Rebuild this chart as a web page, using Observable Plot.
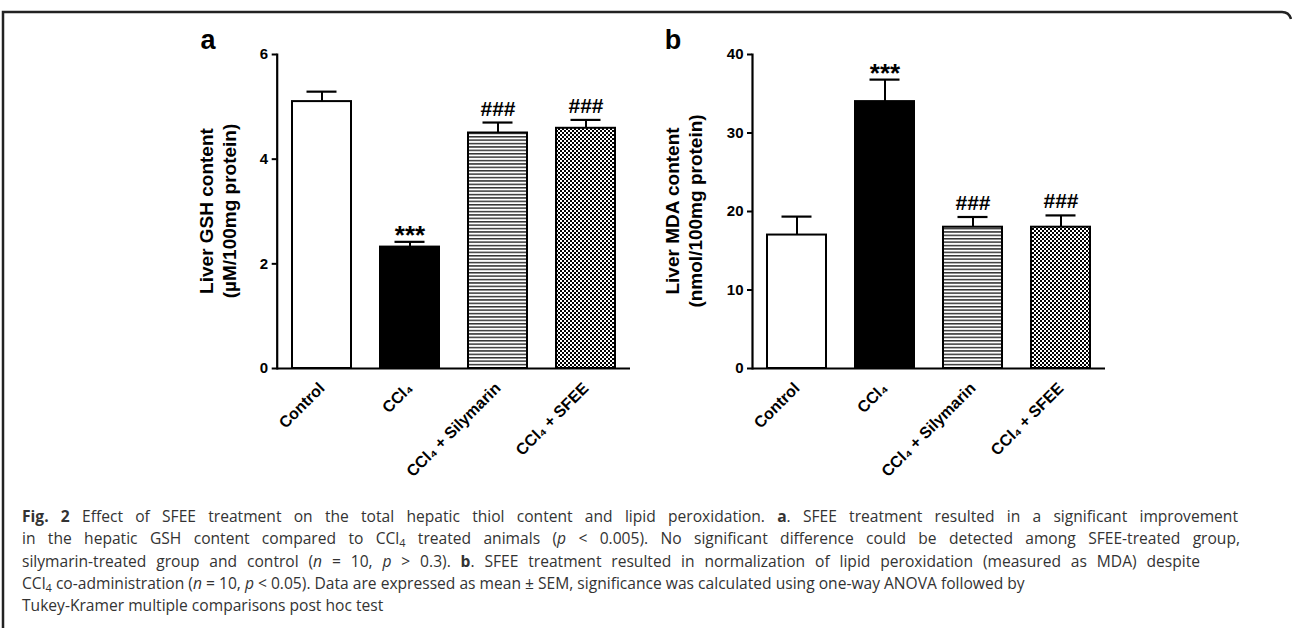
<!DOCTYPE html>
<html><head><meta charset="utf-8">
<script src="https://cdn.jsdelivr.net/npm/d3@7"></script>
<script src="https://cdn.jsdelivr.net/npm/@observablehq/plot@0.6"></script>
<style>
body{margin:0;background:#fff;width:1292px;height:628px;position:relative;overflow:hidden;}
.panel{position:absolute;top:0}
#a{left:150px} #b{left:620px}
#cap{position:absolute;left:22px;top:505px;font-family:"Open Sans",sans-serif;font-size:15.6px;line-height:22.3px;color:#333;white-space:nowrap}
#cap .j{text-align:justify;text-align-last:justify;white-space:normal}
#cap sub{font-size:70%;line-height:0;vertical-align:-0.25em}
#frame{position:absolute;left:0;top:0}
</style></head><body>
<svg id="frame" width="1292" height="628">
<defs>
<pattern id="hlines" patternUnits="userSpaceOnUse" width="6" height="3.4"><rect x="0" y="0" width="6" height="1.5" fill="#333"/></pattern>
<pattern id="checks" patternUnits="userSpaceOnUse" width="4" height="4"><rect width="4" height="4" fill="#fff" shape-rendering="crispEdges"/><rect x="0" y="0" width="2" height="2" fill="#000" shape-rendering="crispEdges"/><rect x="2" y="2" width="2" height="2" fill="#000" shape-rendering="crispEdges"/></pattern>
</defs>
<path d="M3,628 V12 H1282 Q1289,12 1291,19" fill="none" stroke="#222" stroke-width="2.5"/>
</svg>
<div id="a" class="panel"></div><div id="b" class="panel"></div>
<div id="cap">
<div class="j" style="width:1216px"><b>Fig. 2</b> Effect of SFEE treatment on the total hepatic thiol content and lipid peroxidation. <b>a</b>. SFEE treatment resulted in a significant improvement</div>
<div class="j" style="width:1218px">in the hepatic GSH content compared to CCl<sub>4</sub> treated animals (<i>p</i> &lt; 0.005). No significant difference could be detected among SFEE-treated group,</div>
<div class="j" style="width:1178px">silymarin-treated group and control (<i>n</i> = 10, <i>p</i> &gt; 0.3). <b>b</b>. SFEE treatment resulted in normalization of lipid peroxidation (measured as MDA) despite</div>
<div>CCl<sub>4</sub> co-administration (<i>n</i> = 10, <i>p</i> &lt; 0.05). Data are expressed as mean ± SEM, significance was calculated using one-way ANOVA followed by</div>
<div>Tukey-Kramer multiple comparisons post hoc test</div>
</div>
<script>
const groups = ["Control", "CCl₄", "CCl₄ + Silymarin", "CCl₄ + SFEE"];
const gshMean = [5.1, 2.32, 4.5, 4.59];
const gshSem = [0.19, 0.1, 0.2, 0.16];
const mdaMean = [17.0, 34.0, 18.0, 18.0];
const mdaSem = [2.35, 2.8, 1.3, 1.5];
const gshMarks = ["", "***", "###", "###"];
const mdaMarks = ["", "***", "###", "###"];
const gshTicks = [0, 2, 4, 6];
const mdaTicks = [0, 10, 20, 30, 40];
const groupFills = ["white", "black", "url(#hlines)", "url(#checks)"];

const FONT = "'Liberation Sans', Arial, sans-serif";
const NARROW = "'Liberation Sans Narrow', 'Arial Narrow', 'Liberation Sans', sans-serif";

function panel(opts) {
  const {mean, sem, marks, ticks, yMax, letter, label1, label2, marginLeft, marginRight, letterX, labelX} = opts;
  const data = groups.map((g, i) => ({group: g, mean: mean[i], top: mean[i] + sem[i], mark: marks[i], fill: groupFills[i]}));
  const chart = Plot.plot({
    width: 500, height: 490,
    marginLeft, marginRight, marginTop: 54, marginBottom: 122,
    style: {fontFamily: FONT, fontWeight: "bold", fontSize: "15px", color: "#000", background: "transparent", overflow: "visible"},
    x: {domain: groups, paddingInner: 0.33, paddingOuter: 0.17, label: null},
    y: {domain: [0, yMax], label: null},
    color: {type: "identity"},
    marks: [
      Plot.ruleX(data, {x: "group", y1: "mean", y2: "top", stroke: "black", strokeWidth: 2}),
      Plot.tickY(data, {x: "group", y: "top", stroke: "black", strokeWidth: 2.2, insetLeft: 14.5, insetRight: 14.5}),
      Plot.barY(data, {x: "group", y: "mean", fill: "fill", stroke: "black", strokeWidth: 2}),
      Plot.text(data.filter(d => d.mark === "***"), {x: "group", y: "top", text: "mark", lineAnchor: "bottom", dy: 2, fontSize: 26, fontWeight: "bold", fontFamily: FONT, fill: "black"}),
      Plot.text(data.filter(d => d.mark === "###"), {x: "group", y: "top", text: "mark", lineAnchor: "bottom", dy: -7, fontSize: 21, fontWeight: "bold", fontFamily: NARROW, fill: "black"}),
      Plot.frame({anchor: "left", strokeWidth: 2.2}),
      Plot.ruleY([0], {strokeWidth: 2.2}),
      Plot.axisY({ticks, tickSize: 5, tickPadding: 4, strokeWidth: 2, label: null, tickFormat: d3.format("d"), fontSize: 15, fontWeight: "bold", fontFamily: FONT}),
      Plot.axisX({tickSize: 0, tickRotate: -45, tickPadding: 17, label: null, fontSize: 16, fontWeight: "bold", fontFamily: FONT})
    ]
  });
  const svg = d3.select(chart);
  svg.append("text").attr("x", letterX).attr("y", 49)
    .style("font", `bold 27px ${FONT}`).text(letter);
  const t = svg.append("text")
    .attr("transform", `translate(${labelX},${(54 + 368) / 2}) rotate(-90)`)
    .attr("text-anchor", "middle")
    .style("font", `bold 19px ${FONT}`);
  t.append("tspan").attr("x", 0).attr("y", 0).text(label1);
  t.append("tspan").attr("x", 0).attr("y", 23).text(label2);
  return chart;
}

document.getElementById("a").append(panel({
  mean: gshMean, sem: gshSem, marks: gshMarks, ticks: gshTicks, yMax: 6, letter: "a",
  label1: "Liver GSH content", label2: "(µM/100mg protein)",
  marginLeft: 126.7, marginRight: 20, letterX: 58, labelX: 63
}));
document.getElementById("b").append(panel({
  mean: mdaMean, sem: mdaSem, marks: mdaMarks, ticks: mdaTicks, yMax: 40, letter: "b",
  label1: "Liver MDA content", label2: "(nmol/100mg protein)",
  marginLeft: 132, marginRight: 15, letterX: 53, labelX: 59
}));
</script>
</body></html>
